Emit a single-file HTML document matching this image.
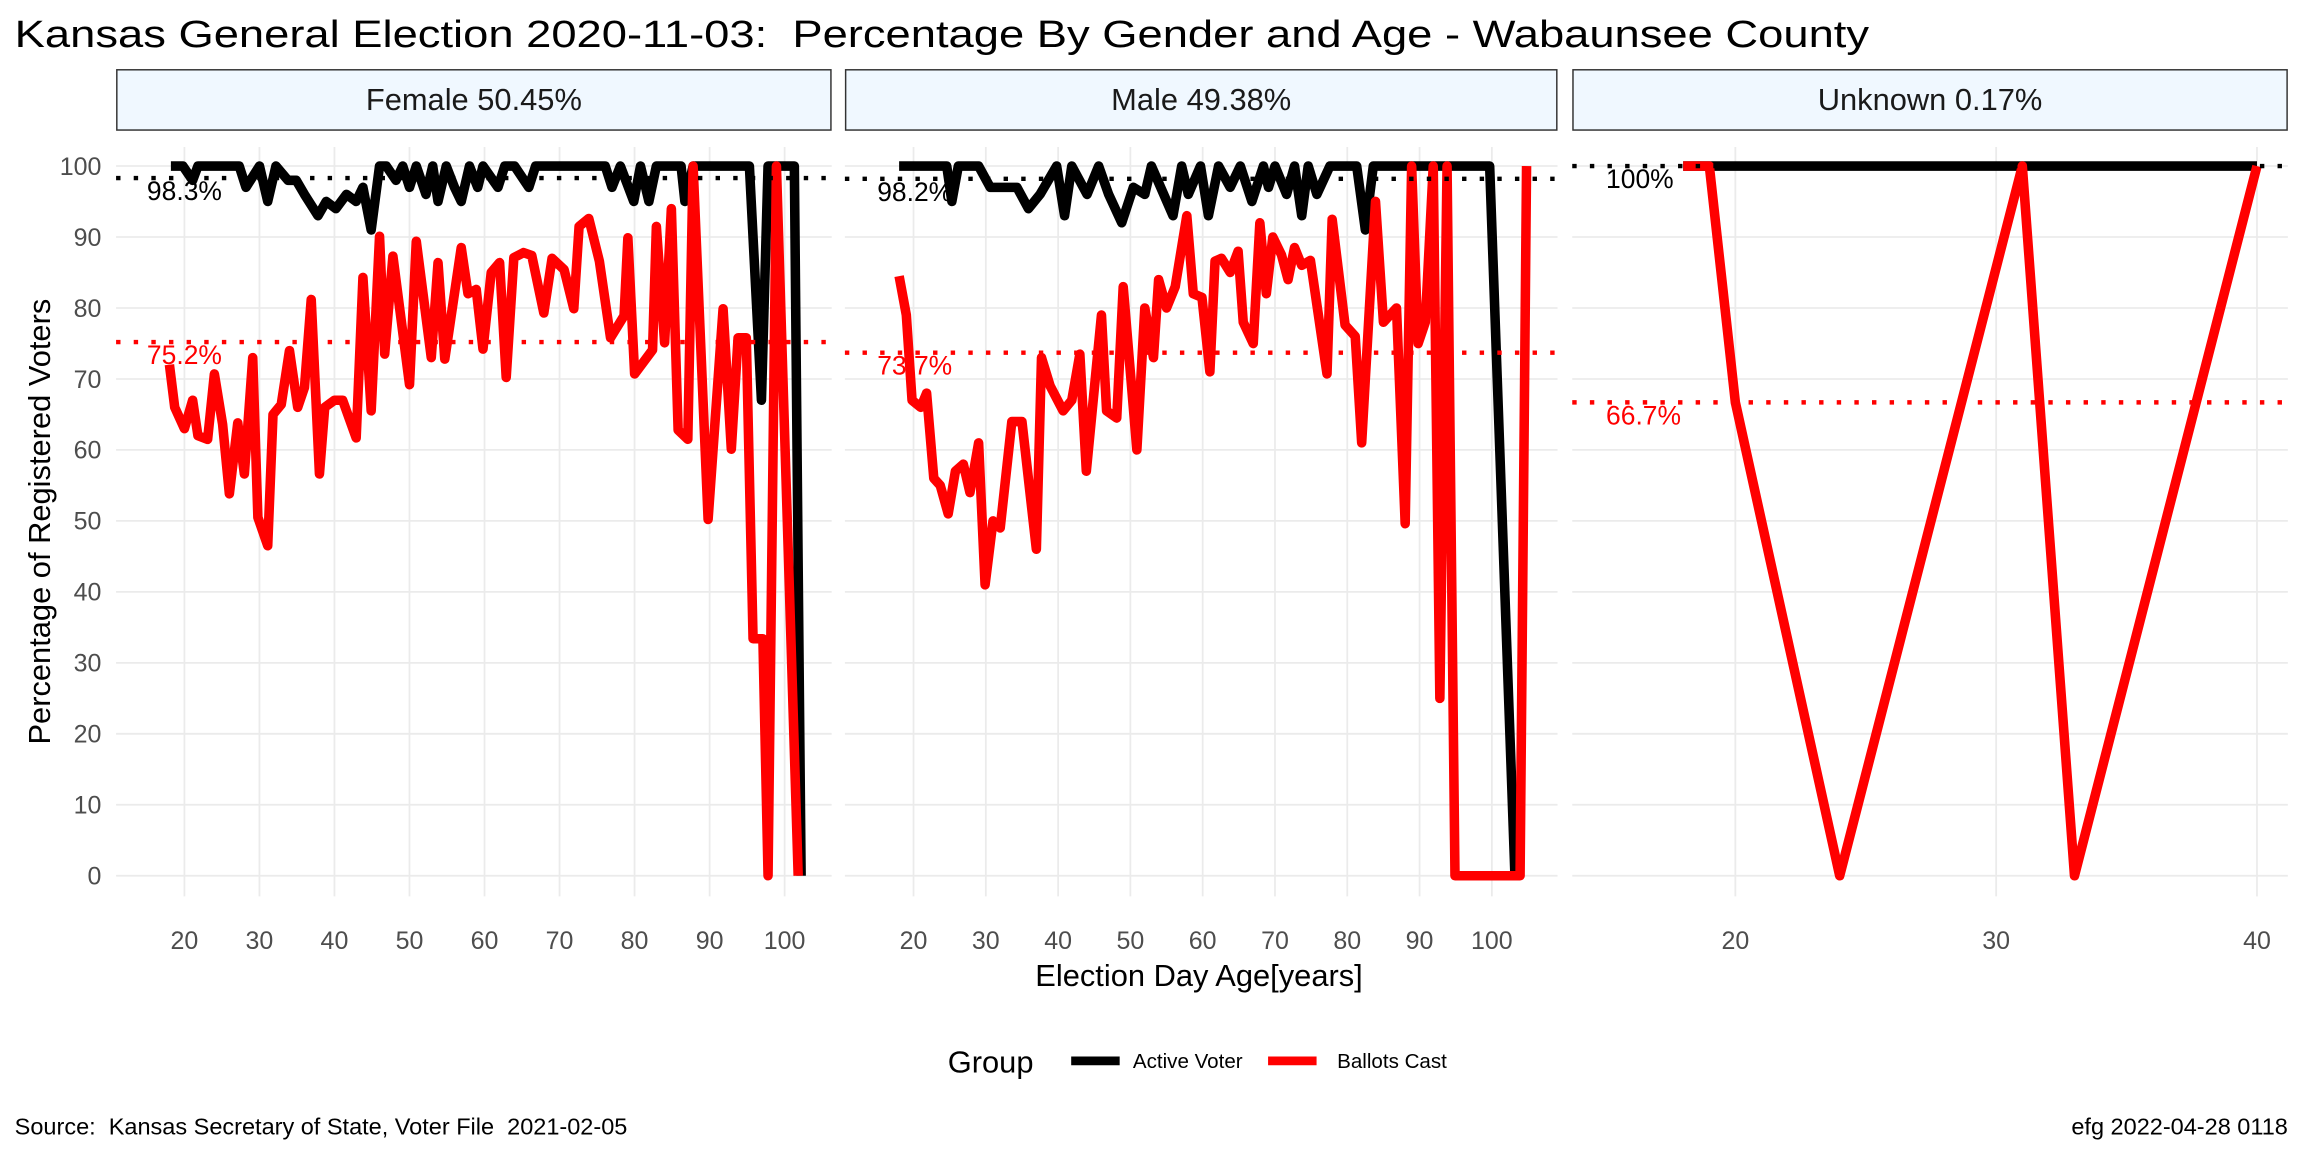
<!DOCTYPE html>
<html><head><meta charset="utf-8"><style>
html,body{margin:0;padding:0;background:#fff}
svg{display:block;font-family:"Liberation Sans",sans-serif}
svg text{white-space:pre}
</style></head><body>
<svg id="chart" width="2304" height="1152" viewBox="0 0 1568 784" xmlns="http://www.w3.org/2000/svg" xml:space="preserve">
<rect width="1568" height="784" fill="#fff"/>
<text x="10" y="32" font-size="26" fill="#000" textLength="1262" lengthAdjust="spacingAndGlyphs">Kansas General Election 2020-11-03:  Percentage By Gender and Age - Wabaunsee County</text>
<text transform="translate(34,355) rotate(-90)" text-anchor="middle" font-size="21">Percentage of Registered Voters</text>
<text x="816" y="671" text-anchor="middle" font-size="21">Election Day Age[years]</text>
<g>
<text x="645" y="730" font-size="21">Group</text>
<line x1="729" y1="722" x2="762" y2="722" stroke="#000" stroke-width="6"/>
<text x="771" y="727" font-size="14">Active Voter</text>
<line x1="863" y1="722" x2="896" y2="722" stroke="#f00" stroke-width="6"/>
<text x="910" y="727" font-size="14">Ballots Cast</text>
</g>
<text x="10" y="772" font-size="16">Source:  Kansas Secretary of State, Voter File  2021-02-05</text>
<text x="1557" y="772" text-anchor="end" font-size="16">efg 2022-04-28 0118</text>
<g id="panels"></g>
</svg>
<script>
const yTicks = [0,10,20,30,40,50,60,70,80,90,100];
const femaleTicks = [20,30,40,50,60,70,80,90,100];
const maleTicks = [20,30,40,50,60,70,80,90,100];
const unknownTicks = [20,30,40];
const panelLabels = ["Female 50.45%","Male 49.38%","Unknown 0.17%"];
const meanActive = [98.3,98.2,100];
const meanBallots = [75.2,73.7,66.7];
const meanActiveLabels = ["98.3%","98.2%","100%"];
const meanBallotsLabels = ["75.2%","73.7%","66.7%"];

const femaleActiveAge = [18.2,19.8,21.1,21.8,27.3,28.2,30,31.1,32.2,33.8,34.9,36,37.8,38.9,40.2,41.6,42.9,43.8,44.9,46,46.9,48.2,49.1,50,50.9,52.2,53.1,53.8,54.9,56,56.9,58,59.1,59.8,61.8,62.7,64,65.9,66.8,76.1,77,78.1,79.9,80.8,81.9,82.9,86.2,86.7,87.8,95.3,96.9,97.8,101.3,102.2];
const femaleActiveVal = [100,100,98,100,100,97,100,95,100,98,98,96,93,95,94,96,95,97,91,100,100,98,100,97,100,96,100,95,100,97,95,100,97,100,97,100,100,97,100,100,97,100,95,100,95,100,100,95,100,100,67,100,100,0];
const femaleBallotAge = [18,18.7,20,21.1,21.8,23.1,24,25.1,26,27.1,28,29.1,29.8,31.1,31.8,32.9,34,35.1,36,36.9,38,38.7,40,41.1,42.9,43.8,44.9,46,46.7,47.8,50,50.9,52.9,53.8,54.7,56.9,57.8,58.9,59.8,60.9,62,62.9,63.9,65.2,66.3,67.9,69,70.6,71.9,72.6,73.9,75.3,76.8,78.6,79.1,80,82.4,82.9,84,84.9,85.8,87.1,87.8,89.8,91.8,92.9,93.8,94.9,95.8,97.1,97.8,98.9,101.8];
const femaleBallotVal = [72,66,63,67,62,61.5,70.7,63.6,53.8,63.8,56.6,73,50.5,46.5,65,66.4,74,66,68.8,81.2,56.6,66,67,67,61.7,84.3,65.5,90.1,73.5,87.3,69.2,89.4,73,86.4,72.8,88.5,82,82.6,74.2,85,86.4,70.2,87.1,87.8,87.4,79.3,87,85.4,79.9,91.5,92.6,86.6,75.8,78.9,89.9,70.7,74.1,91.5,75.1,94,62.8,61.5,100,50.2,79.9,60.1,75.8,75.8,33.4,33.4,0,100,0];

const maleActiveAge = [18,24.6,25.3,26.2,29,30.6,32.4,34.3,35.9,37.5,39.8,40.9,41.9,44,45.6,47,48.8,50.4,52,52.9,55.9,57.1,58,59.7,60.8,62.2,63.8,65.2,66.8,68.4,69.1,70,71.6,72.7,73.7,74.6,75.8,77.6,81.3,82.5,83.6,89.6,99.7,103.2];
const maleActiveVal = [100,100,95,100,100,97,97,97,94,96,100,93,100,96,100,96,92,97,96,100,93,100,96,100,93,100,97,100,95,100,97,100,96,100,93,100,96,100,100,91,100,100,100,0];
const maleBallotAge = [18,19,19.8,21,21.8,22.8,23.7,24.8,25.8,26.9,27.8,29,29.9,31,32,33.6,35,37,37.7,38.9,40.7,41.9,43,43.9,46,46.7,48.1,49,50.9,52,53.2,53.9,55,56.2,57.8,58.7,59.9,61,61.7,62.6,63.8,64.9,65.6,67,67.9,68.8,69.7,70.9,71.8,72.7,73.7,74.9,77.2,77.9,79.7,81.1,82,83.9,85,86.8,88,88.9,89.8,90.8,91.9,92.8,93.8,94.9,103.9,104.8];
const maleBallotVal = [84.5,79,67,66,68,56,55,51,57,58,54,61,41,50,49,64,64,46,73,69,65.5,67,73.5,57,79,65.5,64.5,83,60,80,73,84,80,83,93,82,81.5,71,86.6,87,85,88,78,75,92,82,90,87.5,84,88.5,86,86.7,70.7,92.5,77.6,76,61,95,78,80,49.6,100,75,78,100,25,100,0,0,100];

const unknownActiveAge = [18,19,20,24,31,33,40];
const unknownActiveVal = [100,100,100,100,100,100,100];
const unknownBallotAge = [18,19,20,24,31,33,40];
const unknownBallotVal = [100,100,66.7,0,100,0,100];

const NS = "http://www.w3.org/2000/svg";
const yScale = v => 596 - v * 4.83;
const panels = [
  {x0:79,x1:566,xs:a=>125.5+(a-20)*5.106,ticks:femaleTicks,act:[femaleActiveAge,femaleActiveVal],bal:[femaleBallotAge,femaleBallotVal],lx:100,key:"female"},
  {x0:575,x1:1060,xs:a=>621.7+(a-20)*4.92,ticks:maleTicks,act:[maleActiveAge,maleActiveVal],bal:[maleBallotAge,maleBallotVal],lx:597,key:"male"},
  {x0:1070,x1:1557,xs:a=>1181+(a-20)*17.75,ticks:unknownTicks,act:[unknownActiveAge,unknownActiveVal],bal:[unknownBallotAge,unknownBallotVal],lx:1093,key:"unknown"}
];
const root = document.getElementById("panels");
function mk(tag, attrs, parent){
  const e = document.createElementNS(NS, tag);
  for (const k in attrs) e.setAttribute(k, attrs[k]);
  parent.appendChild(e);
  return e;
}
panels.forEach((p, i) => {
  const g = mk("g", {}, root);
  
  
  yTicks.forEach(t => {
    const l = mk("line", {x1:p.x0,x2:p.x1,y1:yScale(t),y2:yScale(t),stroke:"#ebebeb","stroke-width":1.2}, g);
    
    
  });
  p.ticks.forEach(t => {
    const l = mk("line", {x1:p.xs(t),x2:p.xs(t),y1:100,y2:610,stroke:"#ebebeb","stroke-width":1.2}, g);
    
    
    const tx = mk("text", {x:p.xs(t),y:646,"text-anchor":"middle","font-size":17,fill:"#4d4d4d"}, g);
    tx.textContent = t;
    
    
  });
  if (i === 0) {
    yTicks.forEach(t => {
      const tx = mk("text", {x:69,y:yScale(t)+6,"text-anchor":"end","font-size":17,fill:"#4d4d4d"}, g);
      tx.textContent = t;
      
      
    });
  }
  const sr = mk("rect", {x:p.x0+0.5,y:47.5,width:p.x1-p.x0-1,height:41,fill:"#f0f8ff",stroke:"#333","stroke-width":1}, g);
  
  
  const st = mk("text", {x:(p.x0+p.x1)/2,y:75,"text-anchor":"middle","font-size":21,fill:"#1a1a1a"}, g);
  st.textContent = panelLabels[i];
  
  
  const line = (arr, color, name) => {
    const d = arr[0].map((a, j) => (j ? "L" : "M") + p.xs(a).toFixed(1) + "," + yScale(arr[1][j]).toFixed(1)).join("");
    const pa = mk("path", {d:d,fill:"none",stroke:color,"stroke-width":6.5,"stroke-linejoin":"round","stroke-linecap":"butt"}, g);
    
    
  };
  line(p.act, "#000", "active-voter-line-" + p.key);
  line(p.bal, "#f00", "ballots-cast-line-" + p.key);
  const mean = (v, lbl, color, name) => {
    const ml = mk("line", {x1:p.x0,x2:p.x1,y1:yScale(v),y2:yScale(v),stroke:color,"stroke-width":3,"stroke-dasharray":"3 9"}, g);
    
    
    const mt = mk("text", {x:p.lx,y:yScale(v)+15,"font-size":18,fill:color}, g);
    mt.textContent = lbl;
    
    
  };
  mean(meanActive[i], meanActiveLabels[i], "#000", "mean-active-" + p.key);
  mean(meanBallots[i], meanBallotsLabels[i], "#f00", "mean-ballots-" + p.key);
});
</script>
</body></html>
